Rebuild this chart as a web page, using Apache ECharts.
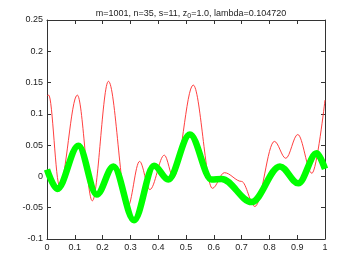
<!DOCTYPE html>
<html>
<head>
<meta charset="utf-8">
<script src="https://cdn.jsdelivr.net/npm/echarts@6/dist/echarts.min.js"></script>
<style>html,body{margin:0;padding:0;background:#fff}#c{width:360px;height:270px}</style>
</head>
<body>
<div id="c"></div>
<script>
var titleText = "m=1001, n=35, s=11, z{sub|0}=1.0, lambda=0.104720";
var redX = [0, 0.006, 0.045, 0.109, 0.163, 0.221, 0.29, 0.333, 0.37, 0.422, 0.455, 0.526, 0.595, 0.638, 0.70, 0.748, 0.818, 0.859, 0.902, 0.953, 1.0];
var redY = [0.129, 0.130, -0.015, 0.130, -0.039, 0.152, -0.049, 0.024, -0.021, 0.034, -0.002, 0.146, -0.019, 0.006, -0.008, -0.048, 0.056, 0.029, 0.067, 0.005, 0.122];
var greenX = [0, 0.037, 0.113, 0.179, 0.239, 0.313, 0.385, 0.436, 0.514, 0.592, 0.628, 0.736, 0.838, 0.904, 0.970, 1.0];
var greenY = [0.011, -0.020, 0.049, -0.029, 0.016, -0.070, 0.017, -0.005, 0.067, -0.005, -0.004, -0.041, 0.016, -0.011, 0.037, 0.012];
var xMin = 0, xMax = 1, xStep = 0.1;
var yMin = -0.1, yMax = 0.25, yStep = 0.05;

function pairs(xs, ys) { return xs.map(function (x, i) { return [x, ys[i]]; }); }
function fmt(v) { return String(Math.round(v * 1000) / 1000); }

var axisLine = { show: true, onZero: false, lineStyle: { color: '#333', width: 1 } };
var tickIn = { show: true, inside: true, length: 4, lineStyle: { color: '#333' } };
var lbl = { fontFamily: 'Liberation Sans, Arial, sans-serif', fontSize: 9, color: '#222' };

var chart = echarts.init(document.getElementById('c'), null, { renderer: 'canvas' });
chart.setOption({
  animation: false,
  backgroundColor: '#fff',
  title: {
    text: titleText, left: 186, top: 3, textAlign: 'center',
    textStyle: { fontFamily: 'Liberation Sans, Arial, sans-serif', fontSize: 9, fontWeight: 'normal', color: '#222',
      rich: { sub: { fontSize: 7, verticalAlign: 'bottom', padding: [5, 0, 0, 0], fontFamily: 'Liberation Sans, Arial, sans-serif', color: '#222' } } }
  },
  grid: { left: 47, right: 35, top: 20, bottom: 31, show: false },
  xAxis: [
    { type: 'value', min: xMin, max: xMax, interval: xStep, position: 'bottom', axisLine: axisLine, axisTick: tickIn,
      splitLine: { show: false }, axisLabel: Object.assign({ margin: 4, formatter: fmt }, lbl) },
    { type: 'value', min: xMin, max: xMax, interval: xStep, position: 'top', axisLine: axisLine, axisTick: tickIn,
      splitLine: { show: false }, axisLabel: { show: false } }
  ],
  yAxis: [
    { type: 'value', min: yMin, max: yMax, interval: yStep, position: 'left', axisLine: axisLine, axisTick: tickIn,
      splitLine: { show: false }, axisLabel: Object.assign({ margin: 4, formatter: fmt }, lbl) },
    { type: 'value', min: yMin, max: yMax, interval: yStep, position: 'right', axisLine: axisLine, axisTick: tickIn,
      splitLine: { show: false }, axisLabel: { show: false } }
  ],
  series: [
    { type: 'line', data: pairs(redX, redY), smooth: 0.35, smoothMonotone: 'x', showSymbol: false, symbol: 'none',
      lineStyle: { color: '#ff2a2a', width: 0.9 }, z: 2 },
    { type: 'line', data: pairs(greenX, greenY), smooth: 0.35, smoothMonotone: 'x', showSymbol: false, symbol: 'none',
      lineStyle: { color: '#00ff00', width: 6.5 }, z: 3 }
  ]
});
</script>
</body>
</html>
